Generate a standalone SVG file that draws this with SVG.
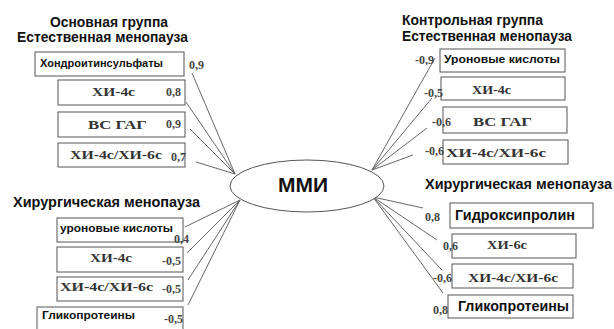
<svg xmlns="http://www.w3.org/2000/svg" width="614" height="329" viewBox="0 0 614 329">
<style>
.t{font-family:"Liberation Sans",Arial,sans-serif;font-weight:bold;font-size:14px;fill:#111}
.s{font-family:"Liberation Sans",Arial,sans-serif;font-weight:bold;font-size:11.5px;fill:#111}
.r{font-family:"Liberation Serif","Times New Roman",serif;font-weight:bold;font-size:13px;fill:#333}
.v{font-family:"Liberation Serif","Times New Roman",serif;font-weight:bold;font-size:12px;fill:#444}
.b{fill:#fff;stroke:#555;stroke-width:1}
.c{stroke:#666;stroke-width:1;fill:none}
</style>
<rect width="614" height="329" fill="#fff"/>
<g id="connectors">
<line class="c" x1="235" y1="174" x2="192" y2="73"/>
<line class="c" x1="235" y1="174" x2="186" y2="102"/>
<line class="c" x1="235" y1="174" x2="190" y2="129"/>
<line class="c" x1="235" y1="174" x2="196" y2="162"/>
<line class="c" x1="240" y1="200" x2="185" y2="227"/>
<line class="c" x1="240" y1="200" x2="187" y2="253"/>
<line class="c" x1="240" y1="200" x2="188" y2="280"/>
<line class="c" x1="240" y1="200" x2="188" y2="305"/>
<line class="c" x1="372" y1="170" x2="435" y2="58"/>
<line class="c" x1="372" y1="170" x2="432" y2="98"/>
<line class="c" x1="372" y1="170" x2="427" y2="128"/>
<line class="c" x1="372" y1="170" x2="413" y2="155"/>
<line class="c" x1="373" y1="197" x2="423" y2="208"/>
<line class="c" x1="373" y1="197" x2="437" y2="240"/>
<line class="c" x1="373" y1="197" x2="442" y2="270"/>
<line class="c" x1="373" y1="197" x2="443" y2="293"/>
</g>
<g id="mmi">
<ellipse cx="307" cy="186" rx="77" ry="26" fill="#fff" stroke="#555" stroke-width="1"/>
<text x="303" y="192" text-anchor="middle" textLength="50" lengthAdjust="spacingAndGlyphs" style="font-family:'Liberation Sans',Arial,sans-serif;font-weight:bold;font-size:20px;fill:#111">ММИ</text>
</g>
<g id="title-left-top">
<text class="t" x="50" y="27" textLength="118" lengthAdjust="spacingAndGlyphs">Основная группа</text>
<text class="t" x="17" y="42" textLength="171" lengthAdjust="spacingAndGlyphs">Естественная менопауза</text>
</g>
<g id="lt1"><rect class="b" x="35" y="52" width="149" height="24"/><text class="s" x="40" y="67" textLength="123" lengthAdjust="spacingAndGlyphs">Хондроитинсульфаты</text><text class="v" x="189" y="69">0,9</text></g>
<g id="lt2"><rect class="b" x="58" y="80" width="127" height="25"/><text class="r" x="92" y="96" textLength="43" lengthAdjust="spacingAndGlyphs">ХИ-4с</text><text class="v" x="166" y="96">0,8</text></g>
<g id="lt3"><rect class="b" x="58" y="112" width="127" height="25"/><text class="r" x="88" y="129" textLength="59" lengthAdjust="spacingAndGlyphs">ВС ГАГ</text><text class="v" x="166" y="128">0,9</text></g>
<g id="lt4"><rect class="b" x="58" y="143" width="127" height="24"/><text class="r" x="70" y="159" textLength="92" lengthAdjust="spacingAndGlyphs">ХИ-4с/ХИ-6с</text><text class="v" x="171" y="161">0,7</text></g>
<g id="title-left-bottom">
<text class="t" x="13" y="207" textLength="187" lengthAdjust="spacingAndGlyphs">Хирургическая менопауза</text>
</g>
<g id="lb1"><rect class="b" x="57" y="218" width="126" height="24"/><text class="s" x="60" y="232" textLength="113" lengthAdjust="spacingAndGlyphs">уроновые кислоты</text><text class="v" x="174" y="243">0,4</text></g>
<g id="lb2"><rect class="b" x="57" y="247" width="126" height="25"/><text class="r" x="90" y="262" textLength="42" lengthAdjust="spacingAndGlyphs">ХИ-4с</text><text class="v" x="162" y="265">-0,5</text></g>
<g id="lb3"><rect class="b" x="57" y="277" width="126" height="24"/><text class="r" x="60" y="291" textLength="93" lengthAdjust="spacingAndGlyphs">ХИ-4с/ХИ-6с</text><text class="v" x="162" y="293">-0,5</text></g>
<g id="lb4"><rect class="b" x="37" y="307" width="146" height="30"/><text class="s" x="42" y="319" textLength="93" lengthAdjust="spacingAndGlyphs">Гликопротеины</text><text class="v" x="164" y="323">-0,5</text></g>
<g id="title-right-top">
<text class="t" x="402" y="25" textLength="141" lengthAdjust="spacingAndGlyphs">Контрольная группа</text>
<text class="t" x="402" y="41" textLength="170" lengthAdjust="spacingAndGlyphs">Естественная менопауза</text>
</g>
<g id="rt1"><rect class="b" x="440" y="49" width="125" height="23"/><text class="s" x="444" y="63" textLength="116" lengthAdjust="spacingAndGlyphs">Уроновые кислоты</text><text class="v" x="415" y="64">-0,9</text></g>
<g id="rt2"><rect class="b" x="441" y="77" width="124" height="23"/><text class="r" x="472" y="94" textLength="39" lengthAdjust="spacingAndGlyphs">ХИ-4с</text><text class="v" x="424" y="97">-0,5</text></g>
<g id="rt3"><rect class="b" x="443" y="107" width="124" height="26"/><text class="r" x="473" y="126" textLength="59" lengthAdjust="spacingAndGlyphs">ВС ГАГ</text><text class="v" x="432" y="126">-0,6</text></g>
<g id="rt4"><rect class="b" x="443" y="140" width="125" height="24"/><text class="r" x="446" y="157" textLength="100" lengthAdjust="spacingAndGlyphs">ХИ-4с/ХИ-6с</text><text class="v" x="425" y="155">-0,6</text></g>
<g id="title-right-bottom">
<text class="t" x="425" y="189" textLength="187" lengthAdjust="spacingAndGlyphs">Хирургическая менопауза</text>
</g>
<g id="rb1"><rect class="b" x="450" y="203" width="143" height="25"/><text class="s" x="455" y="220" style="font-size:14px" textLength="120" lengthAdjust="spacingAndGlyphs">Гидроксипролин</text><text class="v" x="425" y="221">0,8</text></g>
<g id="rb2"><rect class="b" x="452" y="234" width="124" height="24"/><text class="r" x="487" y="249" textLength="40" lengthAdjust="spacingAndGlyphs">ХИ-6с</text><text class="v" x="443" y="250">0,6</text></g>
<g id="rb3"><rect class="b" x="452" y="264" width="121" height="24"/><text class="r" x="468" y="282" textLength="90" lengthAdjust="spacingAndGlyphs">ХИ-4с/ХИ-6с</text><text class="v" x="433" y="282">-0,6</text></g>
<g id="rb4"><rect class="b" x="448" y="295" width="125" height="23"/><text class="s" x="458" y="311" style="font-size:14px" textLength="111" lengthAdjust="spacingAndGlyphs">Гликопротеины</text><text class="v" x="433" y="314">0,8</text></g>
</svg>
